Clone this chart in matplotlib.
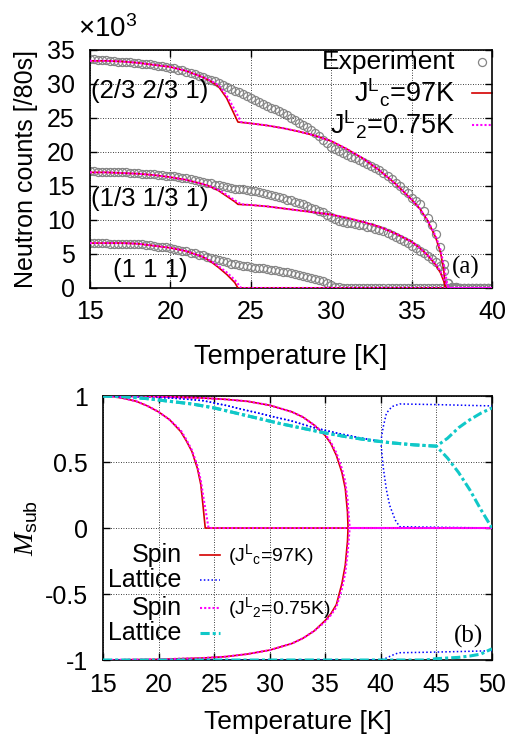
import numpy as np
import matplotlib
matplotlib.use('Agg')
import matplotlib.pyplot as plt

plt.rcParams['font.family'] = ['Liberation Sans', 'DejaVu Sans']
plt.rcParams['mathtext.fontset'] = 'custom'
plt.rcParams['mathtext.rm'] = 'Liberation Sans'
plt.rcParams['mathtext.it'] = 'Liberation Serif:italic'
plt.rcParams['mathtext.default'] = 'regular'
plt.rcParams['axes.unicode_minus'] = False

# ---- panel (a): neutron counts (x10^3) ----
exp_T = np.arange(15.0, 40.01, 0.25)
exp_223 = [33.6, 33.6, 33.5, 33.5, 33.5, 33.4, 33.4, 33.3, 33.3, 33.2,
           33.2, 33.1, 33.1, 33.0, 32.9, 32.9, 32.8, 32.7, 32.6, 32.5,
           32.4, 32.3, 32.1, 32.0, 31.8, 31.6, 31.4, 31.2, 31.0, 30.8,
           30.6, 30.4, 30.1, 29.8, 29.5, 29.3, 29.0, 28.8, 28.5, 28.2,
           27.9, 27.6, 27.3, 27.1, 26.8, 26.5, 26.3, 26.0, 25.7, 25.4,
           25.0, 24.7, 24.3, 23.9, 23.6, 23.2, 22.8, 22.3, 21.8, 21.3,
           20.8, 20.5, 20.2, 19.9, 19.6, 19.3, 19.1, 18.8, 18.5, 18.2,
           17.9, 17.6, 17.3, 16.9, 16.4, 16.0, 15.5, 15.0, 14.4, 13.9,
           13.3, 12.8, 12.3, 11.3, 10.3, 9.2, 8.0, 6.0, 3.6, 0.8,
           0.2, 0.1] + [0.0] * 9
exp_113 = [17.2, 17.2, 17.1, 17.1, 17.1, 17.1, 17.0, 17.0, 17.0, 17.0,
           16.9, 16.9, 16.9, 16.8, 16.8, 16.7, 16.7, 16.6, 16.6, 16.5,
           16.5, 16.4, 16.3, 16.2, 16.1, 16.0, 15.9, 15.7, 15.6, 15.5,
           15.4, 15.2, 15.1, 15.0, 14.9, 14.7, 14.6, 14.5, 14.5, 14.4,
           14.3, 14.2, 14.1, 13.9, 13.8, 13.7, 13.5, 13.4, 13.2, 13.0,
           12.9, 12.7, 12.5, 12.3, 12.1, 11.8, 11.6, 11.3, 11.1, 10.8,
           10.5, 10.2, 9.9, 9.7, 9.6, 9.5, 9.4, 9.3, 9.2, 9.0,
           8.9, 8.7, 8.6, 8.4, 8.1, 7.8, 7.5, 7.2, 6.9, 6.6,
           6.2, 5.9, 5.5, 5.1, 4.7, 4.3, 3.8, 3.2, 2.5, 0.8,
           0.2, 0.1] + [0.0] * 9
exp_111 = [6.6, 6.6, 6.6, 6.6, 6.6, 6.5, 6.5, 6.5, 6.5, 6.5,
           6.5, 6.4, 6.4, 6.4, 6.3, 6.3, 6.2, 6.1, 6.1, 6.0,
           5.9, 5.8, 5.6, 5.5, 5.4, 5.2, 5.1, 4.9, 4.8, 4.6,
           4.4, 4.3, 4.1, 4.0, 3.8, 3.6, 3.5, 3.4, 3.3, 3.2,
           3.1, 3.0, 2.9, 2.9, 2.8, 2.7, 2.6, 2.5, 2.4, 2.3,
           2.2, 2.0, 1.9, 1.8, 1.6, 1.5, 1.3, 1.2, 1.0, 0.8,
           0.5, 0.2, 0.1] + [0.0] * 38

jc_T = [15, 16, 17, 18, 19, 20, 21, 22, 22.5, 23, 23.5, 24, 24.2, 25, 26, 27,
        28, 29, 30, 31, 32, 33, 34, 35, 35.5, 36, 36.5, 36.8, 37.0, 37.1, 40]
jc_223 = [33.4, 33.4, 33.3, 33.1, 32.8, 32.5, 31.9, 31.0, 30.4, 29.6, 27.9, 25.4,
          24.4, 24.2, 23.9, 23.5, 23.0, 22.4, 21.6, 20.4, 19.0, 17.3, 15.3, 13.0,
          11.7, 9.9, 7.4, 5.2, 2.6, 0.0, 0.0]
jc_113 = [17.0, 17.0, 16.9, 16.8, 16.6, 16.3, 15.9, 15.3, 14.9, 14.3, 13.5, 12.7,
          12.3, 12.2, 12.0, 11.7, 11.4, 11.1, 10.8, 10.3, 9.7, 9.0, 8.0, 6.8,
          5.9, 4.8, 3.4, 2.2, 1.0, 0.0, 0.0]
jc_111 = [6.6, 6.6, 6.6, 6.5, 6.2, 5.9, 5.4, 4.6, 3.9, 3.0, 2.0, 0.8,
          0.0] + [0.0] * 18

j2_T = [15, 16, 17, 18, 19, 20, 21, 22, 22.5, 23, 23.5, 24, 24.4, 25, 26, 27,
        28, 29, 30, 31, 32, 33, 34, 35, 35.5, 36, 36.5, 36.8, 37.0, 37.2, 37.3, 40]
j2_223 = [33.4, 33.4, 33.3, 33.1, 32.8, 32.5, 31.9, 31.0, 30.5, 29.8, 28.3, 26.2,
          24.4, 24.2, 23.9, 23.5, 23.0, 22.4, 21.6, 20.4, 19.0, 17.3, 15.3, 13.0,
          11.7, 9.9, 7.6, 5.6, 3.4, 0.8, 0.0, 0.0]
j2_113 = [17.0, 17.0, 16.9, 16.8, 16.6, 16.3, 15.9, 15.3, 14.9, 14.4, 13.7, 12.9,
          12.3, 12.2, 12.0, 11.7, 11.4, 11.1, 10.8, 10.3, 9.7, 9.0, 8.0, 6.8,
          5.9, 4.8, 3.5, 2.4, 1.4, 0.4, 0.0, 0.0]
j2_111 = [6.6, 6.6, 6.6, 6.5, 6.2, 5.9, 5.4, 4.6, 4.0, 3.2, 2.3, 1.2,
          0.0] + [0.0] * 19

# ---- panel (b): sublattice magnetisation ----
jc_s1_T = [15, 16, 17, 18, 19, 20, 21, 22, 22.5, 23, 23.5, 23.8, 24.0, 24.2, 50]
jc_s1 = [1.0, 0.995, 0.98, 0.96, 0.925, 0.88, 0.82, 0.73, 0.66, 0.58, 0.45, 0.33, 0.17, 0.0, 0.0]
j2_s1_T = [15, 16, 17, 18, 19, 20, 21, 22, 22.5, 23, 23.5, 23.8, 24.1, 24.5, 50]
j2_s1 = [1.0, 0.995, 0.98, 0.96, 0.925, 0.88, 0.82, 0.74, 0.67, 0.59, 0.47, 0.36, 0.2, 0.0, 0.0]

jc_s2_T = [15, 20, 24, 26, 28, 30, 32, 33, 34, 35, 35.5, 36, 36.5, 36.8, 37.0, 37.05, 50]
jc_s2 = [1.0, 0.995, 0.985, 0.975, 0.96, 0.93, 0.88, 0.84, 0.78, 0.70, 0.64, 0.55, 0.42, 0.30, 0.12, 0.0, 0.0]
jc_s3 = [-1.0, -0.995, -0.985, -0.975, -0.955, -0.925, -0.875, -0.835, -0.78, -0.70, -0.65, -0.58, -0.42, -0.28, -0.10, 0.0, 0.0]
j2_s2_T = [15, 20, 24, 26, 28, 30, 32, 33, 34, 35, 35.5, 36, 36.5, 36.8, 37.0, 37.2, 50]
j2_s2 = [1.0, 0.995, 0.985, 0.975, 0.96, 0.93, 0.88, 0.84, 0.78, 0.71, 0.65, 0.57, 0.45, 0.35, 0.22, 0.0, 0.0]
j2_s3 = [-1.0, -0.995, -0.985, -0.975, -0.955, -0.925, -0.875, -0.835, -0.78, -0.71, -0.66, -0.60, -0.46, -0.34, -0.20, 0.0, 0.0]

jc_l1_T = [15, 18, 20, 22, 24, 26, 28, 30, 32, 34, 36, 38, 40, 40.2, 40.5, 41.0, 41.7, 45, 50]
jc_l1 = [1.0, 0.995, 0.99, 0.98, 0.965, 0.93, 0.89, 0.85, 0.81, 0.76, 0.72, 0.685, 0.655,
         0.76, 0.87, 0.92, 0.94, 0.935, 0.925]
jc_l2_T = [15, 18, 20, 22, 24, 26, 28, 30, 32, 34, 36, 38, 40, 40.2, 40.5, 40.8, 41.3, 41.7, 50]
jc_l2 = [1.0, 0.995, 0.99, 0.98, 0.965, 0.93, 0.89, 0.85, 0.81, 0.76, 0.72, 0.685, 0.655,
         0.47, 0.29, 0.17, 0.06, 0.01, 0.0]
jc_l3_T = [15, 40, 40.5, 41.0, 41.6, 45, 50]
jc_l3 = [-1.0, -1.0, -0.985, -0.965, -0.945, -0.94, -0.93]

j2_l_T = [15, 17, 19, 21, 23, 25, 27, 29, 31, 33, 35, 37, 39, 41, 43, 45, 46, 47, 48, 49, 50]
j2_l1 = [1.0, 0.995, 0.98, 0.96, 0.94, 0.91, 0.87, 0.83, 0.79, 0.755, 0.72, 0.69, 0.665,
         0.645, 0.63, 0.62, 0.68, 0.76, 0.82, 0.87, 0.91]
j2_l2 = [1.0, 0.995, 0.98, 0.96, 0.94, 0.91, 0.87, 0.83, 0.79, 0.755, 0.72, 0.69, 0.665,
         0.645, 0.63, 0.62, 0.53, 0.42, 0.29, 0.14, 0.0]
j2_l3_T = [15, 44, 45, 46, 47, 48, 49, 50]
j2_l3 = [-1.0, -1.0, -0.99, -0.985, -0.98, -0.97, -0.955, -0.915]

RED = '#d40000'
MAG = '#ff00ff'
BLUE = '#0000ff'
CYAN = '#10c8c8'
FS = 18

fig = plt.figure(figsize=(5.17, 7.39), dpi=100)
ax1 = fig.add_axes([0.1741, 0.6103, 0.7776, 0.3221])
ax2 = fig.add_axes([0.1992, 0.1069, 0.7524, 0.3572])

for ax in (ax1, ax2):
    ax.grid(True, color='black', linestyle=(0, (1, 2)), linewidth=0.6)
    ax.set_axisbelow(True)
    ax.tick_params(direction='in', top=True, right=True, length=5, width=1,
                   labelsize=18)
    ax.tick_params(axis='y', pad=11)
    ax.tick_params(axis='x', pad=9)
    for s in ax.spines.values():
        s.set_linewidth(1.2)

# panel (a)
for ys in (exp_223, exp_113, exp_111):
    ax1.plot(exp_T, ys, 'o', mfc='none', mec='#858585', ms=5.8, mew=0.9, zorder=2)
for ys in (jc_223, jc_113, jc_111):
    ax1.plot(jc_T, ys, color=RED, lw=1.2, zorder=3)
for ys in (j2_223, j2_113, j2_111):
    ax1.plot(j2_T, ys, color=MAG, lw=1.5, ls=(0, (1, 1)), zorder=4)

ax1.set_xlim(15, 40)
ax1.set_ylim(0, 35)
ax1.set_xticks(range(15, 41, 5))
ax1.set_yticks(range(0, 36, 5))
ax1.set_xlabel('Temperature [K]', fontsize=19.5, labelpad=14)
ax1.set_ylabel('Neutron counts [/80s]', fontsize=FS, labelpad=6)
fig.text(78 / 517, 1 - 37 / 739, '×10$^{\\mathrm{3}}$', fontsize=20, va='baseline')

ax1.text(15.05, 29.0, '(2/3 2/3 1)', fontsize=18.5, va='center')
ax1.text(15.05, 13.1, '(1/3 1/3 1)', fontsize=18.5, va='center')
ax1.text(16.4, 2.6, '(1 1 1)', fontsize=18.5, va='center')
ax1.text(0.970, 0.088, '(a)', transform=ax1.transAxes, fontsize=FS,
         family='Liberation Serif', ha='right', va='center')

# legend (a)
tr = ax1.transAxes
ax1.text(0.908, 0.950, 'Experiment', transform=tr, fontsize=19, ha='right', va='center')
ax1.plot([0.975], [0.950], 'o', mfc='none', mec='#858585', ms=5.8, mew=0.9,
         transform=tr, clip_on=False)
ax1.text(0.908, 0.819, r'J$^{\mathrm{L}}$$_{\mathrm{c}}$=97K', transform=tr,
         fontsize=19.5, ha='right', va='center')
ax1.plot([0.95, 1.0], [0.819, 0.819], color=RED, lw=1.2, transform=tr, clip_on=False)
ax1.text(0.908, 0.685, r'J$^{\mathrm{L}}$$_{\mathrm{2}}$=0.75K', transform=tr,
         fontsize=19.5, ha='right', va='center')
ax1.plot([0.95, 1.0], [0.685, 0.685], color=MAG, lw=1.5, ls=(0, (1, 1)),
         transform=tr, clip_on=False)

# panel (b)
ax2.plot(jc_s1_T, jc_s1, color=RED, lw=1.2, zorder=3)
ax2.plot(jc_s2_T, jc_s2, color=RED, lw=1.2, zorder=3)
ax2.plot(jc_s2_T, jc_s3, color=RED, lw=1.2, zorder=3)
blue_kw = dict(color=BLUE, lw=1.1, ls=(0, (1, 1.5)), zorder=4)
ax2.plot(jc_l1_T, jc_l1, **blue_kw)
ax2.plot(jc_l2_T, jc_l2, **blue_kw)
ax2.plot(jc_l3_T, jc_l3, **blue_kw)
mag_kw = dict(color=MAG, lw=1.5, ls=(0, (1, 1)), zorder=5)
ax2.plot(j2_s1_T, j2_s1, **mag_kw)
ax2.plot(j2_s2_T, j2_s2, **mag_kw)
ax2.plot(j2_s2_T, j2_s3, **mag_kw)
cyan_kw = dict(color=CYAN, lw=2.2, ls=(0, (3, 1, 1, 1)), zorder=6)
ax2.plot(j2_l_T, j2_l1, **cyan_kw)
ax2.plot(j2_l_T, j2_l2, **cyan_kw)
ax2.plot(j2_l3_T, j2_l3, **cyan_kw)

ax2.set_xlim(15, 50)
ax2.set_ylim(-1, 1)
ax2.set_xticks(range(15, 51, 5))
ax2.set_yticks([-1, -0.5, 0, 0.5, 1])
ax2.set_yticklabels(['-1', '-0.5', '0', '0.5', '1'])
ax2.set_xlabel('Temperature [K]', fontsize=19, labelpad=10)
ax2.set_ylabel(r'$\mathit{M}_{\mathrm{sub}}$', fontsize=20, labelpad=3)
ax2.text(0.977, 0.091, '(b)', transform=ax2.transAxes, fontsize=FS,
         family='Liberation Serif', ha='right', va='center')

# legend (b)
tr2 = ax2.transAxes
rows = [0.398, 0.303, 0.197, 0.102]
names = ['Spin', 'Lattice', 'Spin', 'Lattice']
styles = [dict(color=RED, lw=1.2), blue_kw, mag_kw, cyan_kw]
for yy, name, st in zip(rows, names, styles):
    ax2.text(0.202, yy, name, transform=tr2, fontsize=FS, ha='right', va='center')
    kw = {k: v for k, v in st.items() if k != 'zorder'}
    ax2.plot([0.249, 0.301], [yy, yy], transform=tr2, clip_on=False, **kw)
ax2.text(0.322, rows[0], r'(J$^{\mathrm{L}}$$_{\mathrm{c}}$=97K)', transform=tr2,
         fontsize=14, ha='left', va='center')
ax2.text(0.322, rows[2], r'(J$^{\mathrm{L}}$$_{\mathrm{2}}$=0.75K)', transform=tr2,
         fontsize=14, ha='left', va='center')

fig.savefig('out.png', dpi=100)
